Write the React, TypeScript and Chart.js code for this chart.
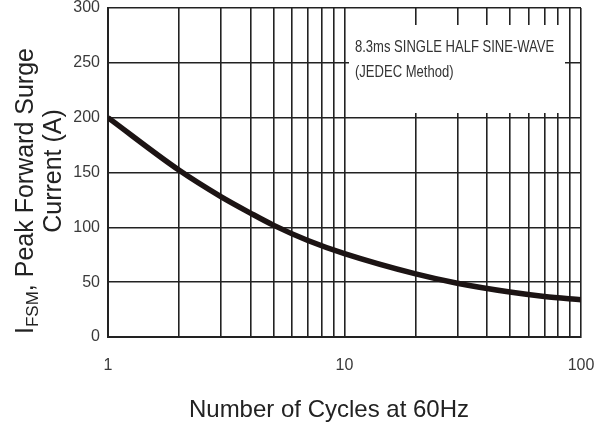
import React, { useEffect, useRef } from "react";
import { Chart, registerables } from "chart.js";

Chart.register(...registerables);

const cycles = [1, 2, 3, 4, 5, 7, 10, 20, 30, 50, 70, 100];
const surgeCurrent = [200, 152, 128, 113, 102, 88, 76, 57.5, 49, 41, 37, 34];
const yTicks = [0, 50, 100, 150, 200, 250, 300];
const xGrid = [1, 2, 3, 4, 5, 6, 7, 8, 9, 10, 20, 30, 40, 50, 60, 70, 80, 90, 100];
const xLabels = [1, 10, 100];
const noteLines = ["8.3ms SINGLE HALF SINE-WAVE", "(JEDEC Method)"];
const xTitle = "Number of Cycles at 60Hz";
const yTitleLine1: [string, boolean][] = [
  ["I", false],
  ["FSM", true],
  [", Peak Forward Surge", false],
];
const yTitleLine2 = "Current (A)";

const SANS = "'Liberation Sans', Arial, sans-serif";

const overlay = {
  id: "overlay",
  beforeDatasetsDraw(chart: any) {
    const { ctx } = chart;
    ctx.save();
    ctx.fillStyle = "#ffffff";
    ctx.fillRect(349, 25, 216, 88);
    ctx.fillStyle = "#333";
    ctx.font = `16.5px ${SANS}`;
    ctx.textAlign = "left";
    ctx.textBaseline = "alphabetic";
    ctx.save();
    ctx.translate(355, 0);
    ctx.scale(0.79, 1);
    ctx.fillText(noteLines[0], 0, 52);
    ctx.fillText(noteLines[1], 0, 77);
    ctx.restore();
    ctx.restore();
  },
  afterDraw(chart: any) {
    const { ctx } = chart;
    ctx.save();
    ctx.fillStyle = "#222";
    ctx.font = `24px ${SANS}`;
    ctx.textAlign = "center";
    ctx.textBaseline = "alphabetic";
    ctx.fillText(xTitle, 329, 417);

    ctx.rotate(-Math.PI / 2);
    const big = `25px ${SANS}`;
    const small = `17px ${SANS}`;
    let total = 0;
    for (const [t, sub] of yTitleLine1) {
      ctx.font = sub ? small : big;
      total += ctx.measureText(t).width;
    }
    let pos = -191 - total / 2;
    ctx.textAlign = "left";
    for (const [t, sub] of yTitleLine1) {
      ctx.font = sub ? small : big;
      ctx.fillText(t, pos, sub ? 38 : 33);
      pos += ctx.measureText(t).width;
    }
    ctx.font = big;
    ctx.textAlign = "center";
    ctx.fillText(yTitleLine2, -171, 61);
    ctx.restore();
  },
};

export default function App() {
  const ref = useRef<HTMLCanvasElement>(null);
  useEffect(() => {
    document.body.style.margin = "0";
    const chart = new Chart(ref.current!, {
      type: "line",
      data: {
        datasets: [
          {
            data: cycles.map((x, i) => ({ x, y: surgeCurrent[i] })),
            borderColor: "#1c1414",
            borderWidth: 5.5,
            pointRadius: 0,
            cubicInterpolationMode: "monotone",
            fill: false,
          },
        ],
      },
      options: {
        animation: false,
        responsive: false,
        devicePixelRatio: 1,
        layout: { padding: { left: 68, top: 8, right: 27, bottom: 0 } },
        plugins: { legend: { display: false }, tooltip: { enabled: false } },
        scales: {
          x: {
            type: "logarithmic",
            min: 1,
            max: 100,
            afterBuildTicks: (s: any) => {
              s.ticks = xGrid.map((v) => ({ value: v }));
            },
            afterFit: (s: any) => {
              s.height = 88;
              s.paddingLeft = 0;
              s.paddingRight = 0;
            },
            ticks: {
              autoSkip: false,
              maxRotation: 0,
              padding: 19,
              color: "#3a3a3a",
              font: { family: SANS, size: 16 },
              callback: (v: any) => (xLabels.includes(Number(v)) ? String(v) : ""),
            },
            grid: { color: "#222", lineWidth: 1.6, drawTicks: false },
            border: { color: "#222", width: 2 },
          },
          y: {
            min: 0,
            max: 300,
            afterBuildTicks: (s: any) => {
              s.ticks = yTicks.map((v) => ({ value: v }));
            },
            afterFit: (s: any) => {
              s.width = 40;
              s.paddingTop = 0;
              s.paddingBottom = 0;
            },
            ticks: {
              padding: 8,
              color: "#3a3a3a",
              font: { family: SANS, size: 16 },
            },
            grid: { color: "#222", lineWidth: 1.6, drawTicks: false },
            border: { color: "#222", width: 2 },
          },
        },
      },
      plugins: [overlay],
    } as any);
    return () => chart.destroy();
  }, []);
  return (
    <div style={{ position: "absolute", left: 0, top: 0, width: 608, height: 425 }}>
      <canvas ref={ref} width={608} height={425} style={{ width: 608, height: 425 }} />
    </div>
  );
}
